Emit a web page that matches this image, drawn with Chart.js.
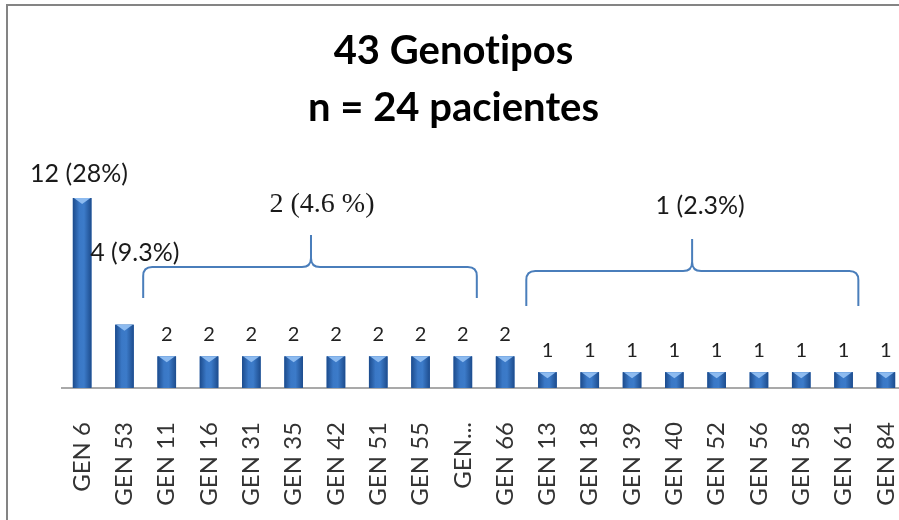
<!DOCTYPE html>
<html>
<head>
<meta charset="utf-8">
<script src="https://cdn.jsdelivr.net/npm/chart.js@4.4.1/dist/chart.umd.min.js"></script>
<style>
    html, body { margin: 0; padding: 0; background: #fff; overflow: hidden; }
    #wrap { position: relative; width: 899px; height: 520px; overflow: hidden; }
    #myChart { position: absolute; left: 0; top: 0; }
    #frame {
        position: absolute; left: 6px; top: 4px; width: 1200px; height: 1200px;
        border-left: 2px solid #848484; border-top: 2px solid #848484;
        pointer-events: none;
    }
</style>
</head>
<body>
<div id="wrap">
    <canvas id="myChart" width="907" height="520"></canvas>
    <div id="frame"></div>
</div>
<script>
// genotypes
const categories = ['GEN 6', 'GEN 53', 'GEN 11', 'GEN 16', 'GEN 31', 'GEN 35', 'GEN 42', 'GEN 51', 'GEN 55', 'GEN...',
    'GEN 66', 'GEN 13', 'GEN 18', 'GEN 39', 'GEN 40', 'GEN 52', 'GEN 56', 'GEN 58', 'GEN 61', 'GEN 84'];
const counts = [12, 4, 2, 2, 2, 2, 2, 2, 2, 2, 2, 1, 1, 1, 1, 1, 1, 1, 1, 1];
// bars that get a plain number above them
const labelledFrom = 2;

const titleLines = ['43 Genotipos', 'n = 24 pacientes'];
const noteTexts = ['12 (28%)', '4 (9.3%)', '2 (4.6 %)', '1 (2.3%)'];

// where the notes and braces sit, in category index / value units
const notes = [
    { text: noteTexts[0], x: -1.23, y: 13.5, align: 'left', font: '25px Lato' },
    { text: noteTexts[1], x: 0.19, y: 8.55, align: 'left', font: '25px Lato' },
    { text: noteTexts[2], x: 5.67, y: 11.55, align: 'center', font: '28px "Liberation Serif"' },
    { text: noteTexts[3], x: 14.61, y: 11.5, align: 'center', font: '25px Lato' }
];
const braces = [
    { from: 1.443, to: 9.33, tip: 5.41, end: 5.69, mid: 7.64, top: 9.67 },
    { from: 10.5, to: 18.35, tip: 14.42, end: 5.18, mid: 7.39, top: 9.41 }
];

// no ligatures (Lato would join "ti")
const plainText = {
    id: 'plainText',
    beforeDraw(chart) {
        chart.ctx.textRendering = 'optimizeSpeed';
    }
};

const barLook = {
    id: 'barLook',
    afterDatasetsDraw(chart) {
        const c = chart.ctx;
        const xs = chart.scales.x;
        const ys = chart.scales.y;
        // category axis line
        c.save();
        c.strokeStyle = '#8c8c8c';
        c.lineWidth = 1.5;
        c.beginPath();
        c.moveTo(xs.left, ys.bottom);
        c.lineTo(xs.right, ys.bottom);
        c.stroke();
        c.restore();

        chart.getDatasetMeta(0).data.forEach(bar => {
            const { x, y, base, width } = bar.getProps(['x', 'y', 'base', 'width'], true);
            const l = x - width / 2;
            const g = c.createLinearGradient(l, 0, l + width, 0);
            g.addColorStop(0, '#1c4b8c');
            g.addColorStop(0.35, '#3a78c6');
            g.addColorStop(0.6, '#3c7bc9');
            g.addColorStop(1, '#1d4c8d');
            c.save();
            c.fillStyle = g;
            c.fillRect(l, y, width, base - y);
            c.beginPath();
            c.moveTo(l + 1, y);
            c.lineTo(l + width - 1, y);
            c.lineTo(x, y + 6);
            c.closePath();
            c.fillStyle = '#8dbbf0';
            c.fill();
            c.restore();
        });
    }
};

const notesPlugin = {
    id: 'notes',
    afterDraw(chart) {
        const c = chart.ctx;
        const xs = chart.scales.x;
        const ys = chart.scales.y;
        const step = xs.getPixelForValue(1) - xs.getPixelForValue(0);
        const px = v => xs.getPixelForValue(0) + v * step;
        c.save();

        // numbers above bars
        c.font = '20px Lato';
        c.fillStyle = '#222';
        c.textAlign = 'center';
        c.textBaseline = 'alphabetic';
        chart.getDatasetMeta(0).data.forEach((bar, i) => {
            if (i < labelledFrom) return;
            c.fillText(String(counts[i]), bar.x, bar.y - 15);
        });

        // free notes
        c.textBaseline = 'middle';
        notes.forEach(n => {
            c.font = n.font;
            c.fillStyle = '#1a1a1a';
            c.textAlign = n.align;
            c.fillText(n.text, px(n.x), ys.getPixelForValue(n.y));
        });

        // curly braces
        c.strokeStyle = '#4a7ebb';
        c.lineWidth = 2;
        braces.forEach(b => {
            const x0 = px(b.from), x1 = px(b.to), xt = px(b.tip);
            const yEnd = ys.getPixelForValue(b.end);
            const yMid = ys.getPixelForValue(b.mid);
            const yTop = ys.getPixelForValue(b.top);
            const r = 9;
            c.beginPath();
            c.moveTo(x0, yEnd);
            c.lineTo(x0, yMid + r);
            c.quadraticCurveTo(x0, yMid, x0 + r, yMid);
            c.lineTo(xt - r, yMid);
            c.quadraticCurveTo(xt, yMid, xt, yMid - r);
            c.lineTo(xt, yTop);
            c.moveTo(xt, yMid - r);
            c.quadraticCurveTo(xt, yMid, xt + r, yMid);
            c.lineTo(x1 - r, yMid);
            c.quadraticCurveTo(x1, yMid, x1, yMid + r);
            c.lineTo(x1, yEnd);
            c.stroke();
        });
        c.restore();
    }
};

const chartData = {
    labels: categories,
    datasets: [
        {
            label: 'Genotipos',
            data: counts,
            backgroundColor: '#2f6bb8',
            borderWidth: 0,
            categoryPercentage: 1,
            barPercentage: 0.44
        }]
};

const config = {
    type: 'bar',
    data: chartData,
    options: {
        responsive: false,
        devicePixelRatio: 1,
        animation: false,
        layout: {
            padding: { top: 23, left: 0, right: 0, bottom: 0 }
        },
        plugins: {
            legend: { display: false },
            tooltip: { enabled: false },
            title: {
                display: true,
                text: titleLines,
                color: '#000',
                font: { family: 'Lato', size: 40, weight: 'bold', lineHeight: '57px' },
                padding: { top: 0, bottom: 61 }
            }
        },
        scales: {
            x: {
                grid: { display: false, drawTicks: false },
                border: { display: false },
                ticks: {
                    color: '#333',
                    font: { family: 'Lato', size: 24 },
                    minRotation: 90,
                    maxRotation: 90,
                    autoSkip: false,
                    padding: 34
                },
                afterFit(scale) {
                    scale.height = 132;
                    scale.paddingLeft = 0;
                    scale.paddingRight = 0;
                }
            },
            y: {
                min: 0,
                max: 12,
                grid: { display: false, drawTicks: false },
                border: { display: false },
                ticks: { display: false },
                afterFit(scale) { scale.width = 61; }
            }
        }
    },
    plugins: [plainText, barLook, notesPlugin]
};

const ctx = document.getElementById('myChart').getContext('2d');

if (ctx) {
    new Chart(ctx, config);
}
</script>
</body>
</html>
